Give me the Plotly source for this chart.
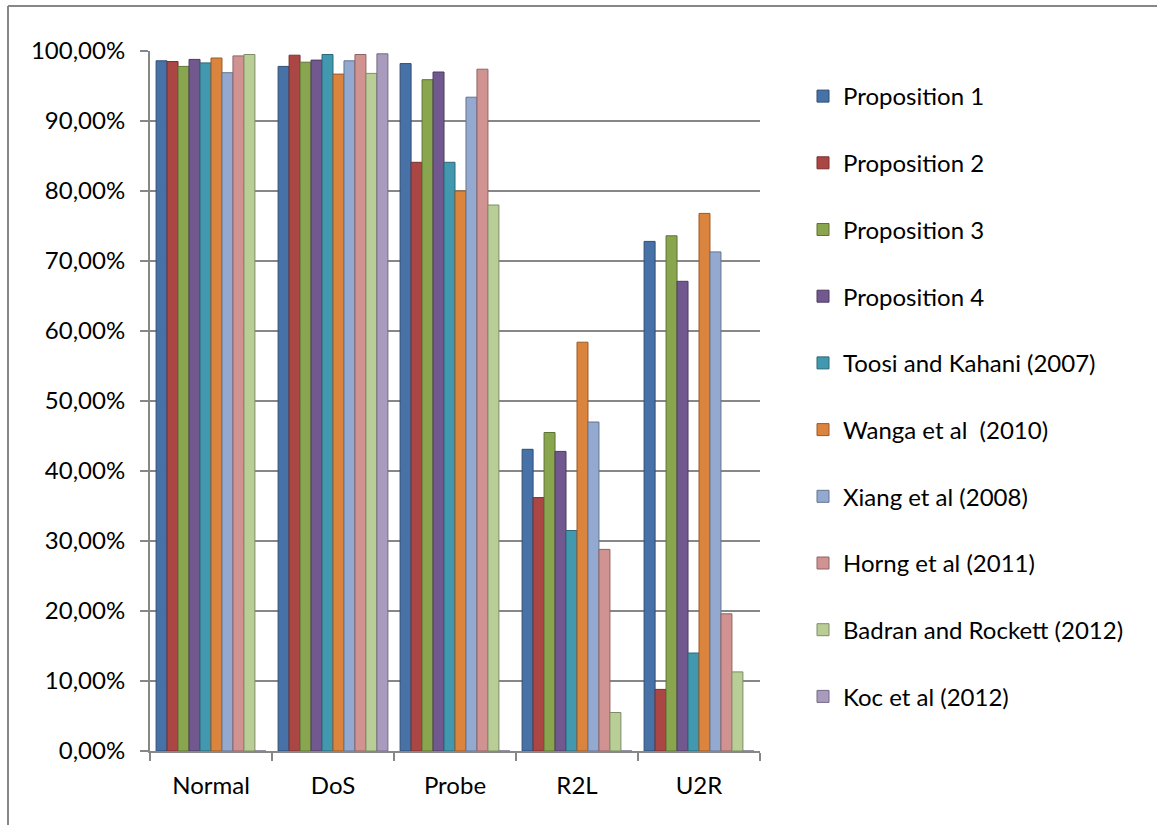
import plotly.graph_objects as go

# Detection rate per attack class for each method
categories = ["Normal", "DoS", "Probe", "R2L", "U2R"]

series_names = [
    "Proposition 1",
    "Proposition 2",
    "Proposition 3",
    "Proposition 4",
    "Toosi and Kahani (2007)",
    "Wanga et al  (2010)",
    "Xiang et al (2008)",
    "Horng et al (2011)",
    "Badran and Rockett (2012)",
    "Koc et al (2012)",
]

proposition_1 = [0.986, 0.978, 0.982, 0.431, 0.728]
proposition_2 = [0.985, 0.994, 0.841, 0.362, 0.088]
proposition_3 = [0.978, 0.984, 0.959, 0.455, 0.736]
proposition_4 = [0.988, 0.987, 0.970, 0.428, 0.671]
toosi_kahani = [0.983, 0.995, 0.841, 0.315, 0.140]
wanga = [0.990, 0.967, 0.800, 0.584, 0.768]
xiang = [0.969, 0.986, 0.934, 0.470, 0.713]
horng = [0.993, 0.995, 0.974, 0.288, 0.196]
badran_rockett = [0.995, 0.968, 0.780, 0.055, 0.113]
koc = [0.0, 0.996, 0.0, 0.0, 0.0]

series_values = [
    proposition_1, proposition_2, proposition_3, proposition_4, toosi_kahani,
    wanga, xiang, horng, badran_rockett, koc,
]

colors = ["#4672A8", "#AA4644", "#89A54E", "#71588F", "#4198AF",
          "#DB843D", "#93A9CF", "#D19392", "#B9CD96", "#A99BBD"]
edges = ["#2F4D73", "#7A302E", "#5E7335", "#4D3C62", "#2C6878",
         "#9A5A29", "#64758F", "#8F6463", "#7F8D67", "#746A82"]

y_ticks = [i / 10 for i in range(11)]
y_tick_labels = [f"{v * 100:.2f}%".replace(".", ",") for v in y_ticks]

FONT = "Lato"
GRID = "#878787"

fig = go.Figure()
for i, (name, vals) in enumerate(zip(series_names, series_values)):
    fig.add_trace(go.Bar(
        name=name,
        x=categories,
        y=vals,
        marker=dict(color=colors[i], line=dict(color=edges[i], width=1)),
        legendgroup=f"g{i}",
    ))

# Chart frame (left and top edges)
L, R, T, B = 150, 760, 51, 751
def px_x(p):
    return (p - L) / (R - L)
def px_y(p):
    return (B - p) / (B - T)

fig.add_shape(type="line", xref="paper", yref="paper",
              x0=px_x(8), x1=px_x(8), y0=px_y(6), y1=px_y(825),
              line=dict(color=GRID, width=2))
fig.add_shape(type="line", xref="paper", yref="paper",
              x0=px_x(8), x1=px_x(1157), y0=px_y(6), y1=px_y(6),
              line=dict(color=GRID, width=2))

fig.update_layout(
    width=1157,
    height=825,
    margin=dict(l=L, r=1157 - R, t=T, b=825 - B, autoexpand=False),
    paper_bgcolor="white",
    plot_bgcolor="white",
    barmode="group",
    bargap=0.1,
    bargroupgap=0.0,
    font=dict(family=FONT, size=24, color="#000000"),
    showlegend=True,
    legend=dict(
        x=px_x(803),
        y=px_y(74),
        xanchor="left",
        yanchor="top",
        font=dict(family=FONT, size=24, color="#000000"),
        tracegroupgap=32.5,
        bgcolor="rgba(0,0,0,0)",
    ),
    xaxis=dict(
        showgrid=False,
        showline=True,
        linecolor=GRID,
        linewidth=2,
        ticks="outside",
        tickson="boundaries",
        ticklen=8,
        tickcolor=GRID,
        tickwidth=2,
        ticklabelstandoff=12,
        tickfont=dict(family=FONT, size=24),
    ),
    yaxis=dict(
        range=[0, 1],
        tickvals=y_ticks,
        ticktext=y_tick_labels,
        showgrid=True,
        gridcolor=GRID,
        gridwidth=2,
        zeroline=False,
        showline=True,
        linecolor=GRID,
        linewidth=2,
        ticks="outside",
        ticklen=8,
        tickcolor=GRID,
        tickwidth=2,
        ticklabelstandoff=10,
        tickfont=dict(family=FONT, size=24),
    ),
)

fig.write_html("out.html")
